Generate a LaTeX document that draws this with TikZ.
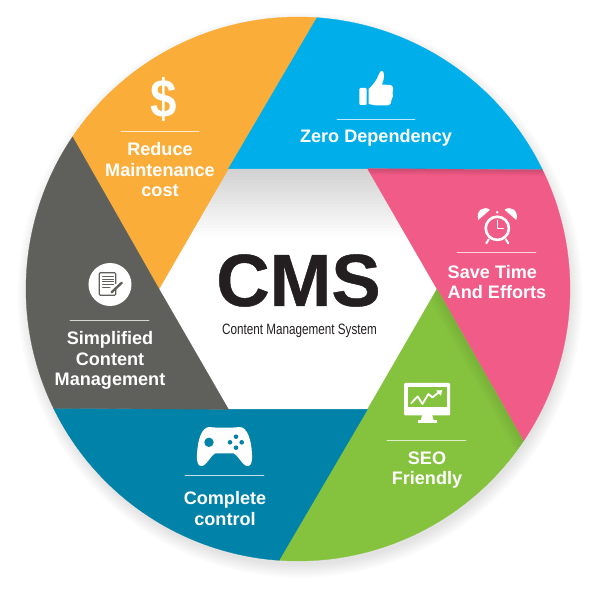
\documentclass[tikz,border=0pt]{standalone}
\usepackage{fontspec}
\setmainfont{Liberation Sans}
\newfontfamily\cmsfont{Liberation Sans}[BoldFeatures={FakeBold=.6}]
\usetikzlibrary{positioning}
\definecolor{orangeseg}{HTML}{FBAD3A}
\definecolor{blueseg}{HTML}{00AEEA}
\definecolor{pinkseg}{HTML}{F15B87}
\definecolor{greenseg}{HTML}{85C33F}
\definecolor{tealseg}{HTML}{0082A9}
\definecolor{greyseg}{HTML}{5F5F5B}
\definecolor{cmsblack}{HTML}{231F20}
\tikzset{
  seglabel/.style={text=white,font=\bfseries\fontsize{18.1}{20.5}\selectfont,align=center,inner sep=0pt},
  segrule/.style={draw=white,opacity=.75,line width=.8pt},
  iconfill/.style={fill=white,draw=none}
}
\newcommand*\mysector[2]{%
% #1=angle of the hexagon corner;#2=colour
    \filldraw[#2,line width=.3pt] (#1:139) -- (#1-34:272) arc[start angle=#1-34,delta angle=-60,radius=272] -- (#1-60:139) -- cycle;
}
\begin{document}
\begin{tikzpicture}[x=1pt,y=1pt,line cap=round,line join=round]
\useasboundingbox (-298,-300) rectangle (302,289);
% soft shadow of the disc
\foreach \r in {283,282,...,270}
    \fill[black,opacity=.009] (2,-6) circle[radius=\r];

% centre
\fill[white] (0:139) -- (60:139) -- (120:139) -- (180:139) -- (240:139) -- (300:139) -- cycle;
\begin{scope}[line cap=butt]
    \clip (0:139) -- (60:139) -- (120:139) -- (180:139) -- (240:139) -- (300:139) -- cycle;
    \foreach \w in {4,10,...,140}
        \draw[black,opacity=.009,line width=\w pt] (-160,120.4) -- (160,120.4);
    \foreach \w in {4,8,...,60} {
        \draw[black,opacity=.01,line width=\w pt] (120,208) -- (0:200);
        \draw[black,opacity=.01,line width=\w pt] (-120,208) -- (180:200);
    }
\end{scope}

\foreach \a/\c in {180/orangeseg,120/blueseg,60/pinkseg,0/greenseg,-60/tealseg,-120/greyseg} {
    \mysector{\a}{\c}
}

% shadows on the seams
\begin{scope}
    \clip (60:139) -- (26:272) arc[start angle=26,delta angle=-60,radius=272] -- (0:139) -- cycle;
    \foreach \w in {2,4,...,12}
        \draw[black,opacity=.022,line width=\w pt] (60:139) -- (26:272);
\end{scope}
\begin{scope}
    \clip (0:139) -- (-34:272) arc[start angle=-34,delta angle=-60,radius=272] -- (-60:139) -- cycle;
    \foreach \w in {4,8,...,24}
        \draw[black,opacity=.012,line width=\w pt] (0:139) -- (-34:272);
\end{scope}

% texts
\node[seglabel] (reduce) at (-138,119) {Reduce\\Maintenance\\cost};
\node[seglabel] (zero) at (78,151.5) {Zero Dependency};
\node[seglabel,align=left] (save) at (199,7) {Save Time\\And Efforts};
\node[seglabel] (seo) at (129,-181) {SEO\\Friendly};
\node[seglabel] (complete) at (-73,-219.5) {Complete\\control};
\node[seglabel] (simple) at (-188,-71.5) {Simplified\\Content\\Management};
\node[anchor=base,inner sep=0pt,text=cmsblack,font=\cmsfont\bfseries\fontsize{74}{74}\selectfont] (cms) at (.5,-17) {CMS};
\node[anchor=base,inner sep=0pt,text=cmsblack,xscale=.78,font=\fontsize{15}{15}\selectfont] (cmsfull) at (1.5,-46) {Content Management System};

% rules
\draw[segrule] (-177,158) -- (-99,158);
\draw[segrule] (39,170) -- (117,170);
\draw[segrule] (159,37) -- (238,37);
\draw[segrule] (89,-151) -- (168,-151);
\draw[segrule] (-113,-186.5) -- (-34,-186.5);
\draw[segrule] (-228,-31) -- (-149,-31);

% dollar
\node[inner sep=0pt,text=white,xscale=.88,font=\bfseries\fontsize{54}{54}\selectfont] (dollar) at (-134,190) {\$};

% thumb
\fill[iconfill,rounded corners=1pt] (61.3,184) rectangle (68.7,201);
\fill[iconfill] (70.5,200) .. controls (75,204) and (79,209) .. (81,215) .. controls (82,219) and (86,219.5) .. (86,214)
    .. controls (86,210) and (85,207) .. (84,204.5) -- (92,204) .. controls (95.5,204) and (96,199) .. (94.5,197)
    .. controls (95.5,194) and (95,191) .. (93.5,189) .. controls (93.5,186) and (92,183.5) .. (90,183.5) -- (78,183.5) -- (70.5,185) -- cycle;

% clock
\begin{scope}[shift={(199.3,60.7)}]
    \draw[white,line width=2.6pt] (0,0) circle[radius=11.6];
    \draw[white,line width=1.4pt] (0,8) -- (0,0) -- (6,0);
    \fill[iconfill] (-19,8.3) .. controls (-22,18) and (-13,23) .. (-7.3,18.5) -- cycle;
    \fill[iconfill] (19,8.3) .. controls (22,18) and (13,23) .. (7.3,18.5) -- cycle;
    \fill[iconfill] (0,16) circle[radius=1.4];
    \draw[white,line width=2pt] (-8.5,-11) -- (-11,-15);
    \draw[white,line width=2pt] (8.5,-11) -- (11,-15);
\end{scope}

% monitor
\begin{scope}[shift={(129.2,-110.2)}]
    \fill[iconfill,rounded corners=1pt] (-23,-16.1) rectangle (23,16.2);
    \fill[greenseg] (-19,-8.1) rectangle (19.5,11.9);
    \draw[white,line width=1.8pt] (-16,-4) -- (-9.5,2.8) -- (-4.8,-4.8) -- (1.2,5.2) -- (5.2,1.8) -- (11,6.4);
    \fill[iconfill] (9,8.8) -- (15,9) -- (13.6,3.4) -- cycle;
    \fill[iconfill] (-5,-16) -- (5,-16) -- (6.5,-21) -- (-6.5,-21) -- cycle;
    \fill[iconfill] (-9.5,-21) rectangle (9.5,-24);
\end{scope}

% document in a disc
\begin{scope}[shift={(-188,4.5)}]
    \fill[iconfill] (0,0) circle[radius=21.5];
    \draw[greyseg,line width=1.2pt,rounded corners=1pt] (5.7,-4) -- (5.7,-10.7) -- (-10.7,-10.7) -- (-10.7,11.7) -- (5.7,11.7) -- (5.7,1);
    \foreach \y in {7.7,5,2.7,0}
        \draw[greyseg,line width=1pt] (-7.3,\y) -- (3.5,\y);
    \draw[greyseg,line width=1pt] (-7.3,-2.7) -- (0,-2.7);
    \draw[greyseg,line width=2.4pt] (1.7,-7.7) -- (11.7,1.7);
\end{scope}

% gamepad
\begin{scope}[shift={(-73.5,-157.5)}]
    \fill[iconfill] (-15,19.5) .. controls (-8,18.5) and (8,18.5) .. (15,19.5) .. controls (23,19.5) and (27,6) .. (27.5,-8)
        .. controls (28,-17) and (26,-19.5) .. (23,-19.5) .. controls (18,-19.5) and (14,-9) .. (9,-6.8)
        -- (-9,-6.8) .. controls (-14,-9) and (-18,-19.5) .. (-23,-19.5) .. controls (-26,-19.5) and (-28,-17) .. (-27.5,-8)
        .. controls (-27,6) and (-23,19.5) .. (-15,19.5) -- cycle;
    \fill[tealseg] (-15.5,4.2) circle[radius=4.7];
    \foreach \x/\y in {11.5/9.8,11.5/-1.2,5.5/4.2,17.2/4.2}
        \fill[tealseg] (\x,\y) circle[radius=2.3];
\end{scope}
\end{tikzpicture}
\end{document}
